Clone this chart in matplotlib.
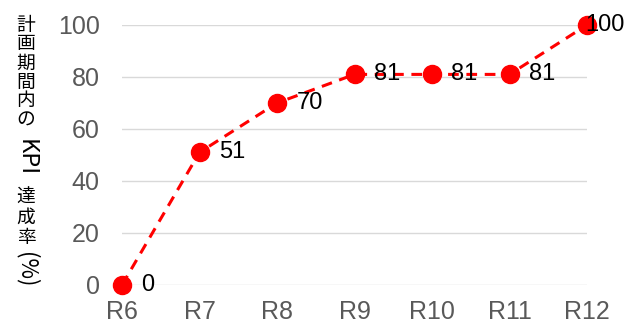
import matplotlib

matplotlib.use("Agg")

import matplotlib.pyplot as plt

categories = ["R6", "R7", "R8", "R9", "R10", "R11", "R12"]
values = [0, 51, 70, 81, 81, 81, 100]
yticks = [0, 20, 40, 60, 80, 100]

num_font = ["Liberation Sans Narrow", "Liberation Sans", "DejaVu Sans"]
jp = ["Noto Sans CJK JP", "DejaVu Sans"]

fig = plt.figure(figsize=(6.31, 3.25), dpi=100)
ax = fig.add_axes([122 / 631, 40 / 325, 465 / 631, 260 / 325])

x = list(range(len(categories)))
ax.plot(x, values, color="#ff0000", lw=2.2, ls=(0, (3.5, 2.5)),
        marker="o", ms=13, mfc="#ff0000", mec="#ff0000", zorder=3, clip_on=False)

for i, v in enumerate(values):
    off = -1 if i == len(values) - 1 else 14
    ax.annotate(str(v), (i, v), textcoords="offset points", xytext=(off, 0),
                ha="left", va="center", fontsize=17, family=num_font, color="black")

ax.set_xlim(0, len(categories) - 1)
ax.set_ylim(0, 100)
ax.set_yticks(yticks)
ax.set_xticks(x)
ax.set_xticklabels(categories)
ax.grid(axis="y", color="#d9d9d9", lw=1)
ax.set_axisbelow(True)
for s in ax.spines.values():
    s.set_visible(False)
ax.tick_params(length=0, labelsize=18, colors="#595959")
ax.tick_params(axis="y", pad=16)
ax.tick_params(axis="x", pad=11)
for lab in ax.get_xticklabels() + ax.get_yticklabels():
    lab.set_family(num_font)

# vertical y-axis label: kanji upright, latin text rotated
pieces = [("計", 25, 0, 13.5), ("画", 44, 0, 13.5), ("期", 63, 0, 13.5),
          ("間", 82, 0, 13.5), ("内", 101, 0, 13.5), ("の", 120, 0, 13.5),
          ("KPI", 158, -90, 17), ("達", 197, 0, 13.5), ("成", 217, 0, 13.5),
          ("率", 237, 0, 13.5), ("(%)", 270, -90, 16)]
for txt, ypix, rot, size in pieces:
    fig.text(26 / 631, 1 - ypix / 325, txt, rotation=rot, ha="center", va="center",
             fontsize=size, family=jp, color="black")

fig.savefig("out.png", dpi=100)
